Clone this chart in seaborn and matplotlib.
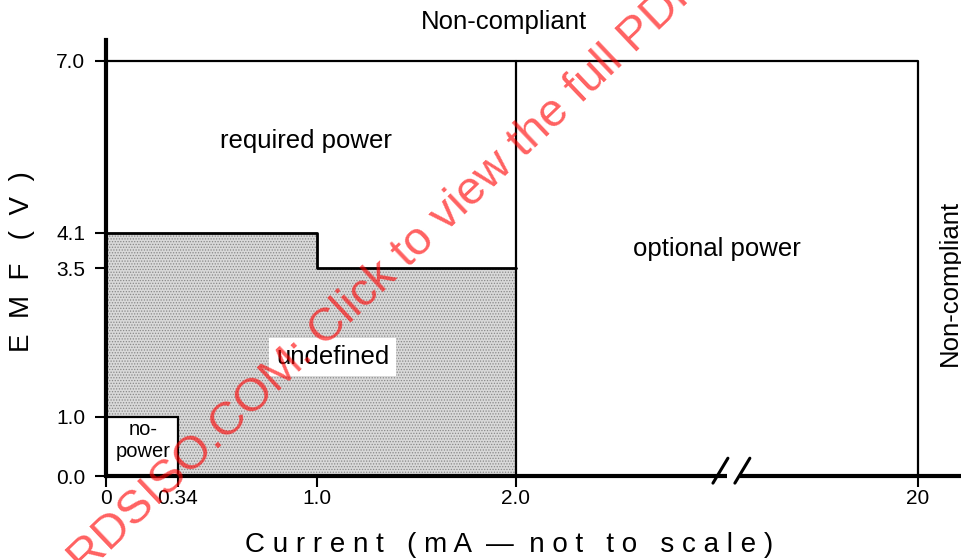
import numpy as np
import pandas as pd
import matplotlib
matplotlib.use("Agg")
import matplotlib.pyplot as plt
import seaborn as sns

# ---- data ----
y_ticks = [0.0, 1.0, 3.5, 4.1, 7.0]
y_tick_labels = ["0.0", "1.0", "3.5", "4.1", "7.0"]
x_ticks = [0.0, 0.34, 1.0, 2.0, 20.0]
x_tick_labels = ["0", "0.34", "1.0", "2.0", "20"]

x_nopower = 0.34     # mA
y_nopower = 1.0      # V
x_step = 1.0         # mA
y_high = 4.1         # V
y_low = 3.5          # V
x_required = 2.0     # mA
x_max = 20.0         # mA
y_max = 7.0          # V

region_names = ["required power", "optional power", "undefined"]
region_x = [0.95, 11.0, 1.08]
region_y = [5.65, 3.83, 2.0]

sns.set_theme(style="white")
plt.rcParams["font.family"] = ["Liberation Sans", "DejaVu Sans"]
plt.rcParams["hatch.linewidth"] = 0.6

# "not to scale" current axis: piecewise-linear display scale
_knots_val = np.array([0.0, 0.34, 1.0, 2.0, 20.0, 40.0])
_knots_pos = np.array([0.0, 0.351, 1.029, 2.0, 3.961, 6.140])

def fwd(x):
    return np.interp(np.asarray(x, dtype=float), _knots_val, _knots_pos)

def inv(u):
    return np.interp(np.asarray(u, dtype=float), _knots_pos, _knots_val)

fig = plt.figure(figsize=(9.62, 5.6), dpi=100)
ax = fig.add_axes([106 / 962, 84 / 560, 1 - 106 / 962, 436 / 560])
ax.set_xscale("function", functions=(fwd, inv))
ax.set_xlim(0, float(inv(4.176)))
ax.set_ylim(0, 7.35)

# undefined (shaded) region
und_x = [0, 0, x_step, x_step, x_required, x_required]
und_y = [0, y_high, y_high, y_low, y_low, 0]
ax.fill(und_x, und_y, facecolor="#d9d9d9", edgecolor="#888888",
        hatch="......", linewidth=0, zorder=1)

# no-power box
np_x = [0, 0, x_nopower, x_nopower]
np_y = [0, y_nopower, y_nopower, 0]
ax.fill(np_x, np_y, facecolor="white", edgecolor="black", linewidth=1.6, zorder=2)

# boundaries
bounds = pd.DataFrame({
    "x": [0, x_step, x_step, x_required],
    "y": [y_high, y_high, y_low, y_low],
})
sns.lineplot(data=bounds, x="x", y="y", sort=False, estimator=None,
             color="black", linewidth=2.0, ax=ax, zorder=3)
top = pd.DataFrame({"x": [0, x_max, x_max], "y": [y_max, y_max, 0]})
sns.lineplot(data=top, x="x", y="y", sort=False, estimator=None,
             color="black", linewidth=1.6, ax=ax, zorder=3)
mid = pd.DataFrame({"x": [x_required, x_required], "y": [y_max, 0]})
sns.lineplot(data=mid, x="x", y="y", sort=False, estimator=None,
             color="black", linewidth=1.6, ax=ax, zorder=3)

# bottom axis with break
bx1 = float(inv(3.029))
bx2 = float(inv(3.093))
xr = float(inv(4.176))
ax.plot([0, bx1], [0, 0], color="black", linewidth=3.0, clip_on=False, zorder=4,
        solid_capstyle="butt")
ax.plot([bx2, xr], [0, 0], color="black", linewidth=3.0, clip_on=False, zorder=4,
        solid_capstyle="butt")
for a, b in [(2.961, 3.034), (3.068, 3.141)]:
    ax.plot([float(inv(a)), float(inv(b))], [-0.12, 0.30], color="black",
            linewidth=2.2, clip_on=False, zorder=4)

# spines / ticks
for s in ["top", "right", "bottom"]:
    ax.spines[s].set_visible(False)
ax.spines["left"].set_linewidth(3.0)
ax.spines["left"].set_color("black")
ax.set_xticks(x_ticks)
ax.set_xticklabels(x_tick_labels)
ax.set_yticks(y_ticks)
ax.set_yticklabels(y_tick_labels)
ax.tick_params(axis="x", bottom=True, direction="out", length=8, width=1.5,
               color="black", labelsize=15, pad=1, labelcolor="black")
ax.tick_params(axis="y", left=True, direction="out", length=8, width=1.5,
               color="black", labelsize=15, pad=7, labelcolor="black")
ax.grid(False)
ax.set_xlabel("")
ax.set_ylabel("")

# region labels
for name, x, y in zip(region_names, region_x, region_y):
    kw = {}
    if name == "undefined":
        kw["bbox"] = dict(facecolor="white", edgecolor="none", pad=5)
    ax.text(x, y, name, ha="center", va="center", fontsize=18.5,
            color="black", zorder=5, **kw)
ax.text(x_nopower / 2 + 0.005, y_nopower * 0.6, "no-\npower", ha="center",
        va="center", fontsize=14.5, color="black", zorder=5, linespacing=1.2)

# non-compliant labels
fig.text(504 / 962, 1 - 22 / 560, "Non-compliant", ha="center", va="center",
         fontsize=18.5, color="black")
fig.text(950 / 962, 1 - 283 / 560, "Non-compliant", ha="center", va="center",
         fontsize=18.5, color="black", rotation=90)

# axis labels (letter-spaced)
fig.text(509 / 962, 1 - 545 / 560,
         "C u r r e n t   ( m A  —  n o t   t o   s c a l e )",
         ha="center", va="center", fontsize=20, color="black")
fig.text(22 / 962, 1 - 262 / 560, "E  M  F   (  V  )", ha="center",
         va="center", fontsize=20, color="black", rotation=90)

# watermark
fig.text(317 / 962, 1 - 338 / 560, "STANDARDSISO.COM: Click to view the full PDF",
         ha="center", va="center", fontsize=34, color="#ff0000", alpha=0.62,
         rotation=43.5, rotation_mode="anchor", zorder=10)

fig.savefig("out.png", dpi=100)
